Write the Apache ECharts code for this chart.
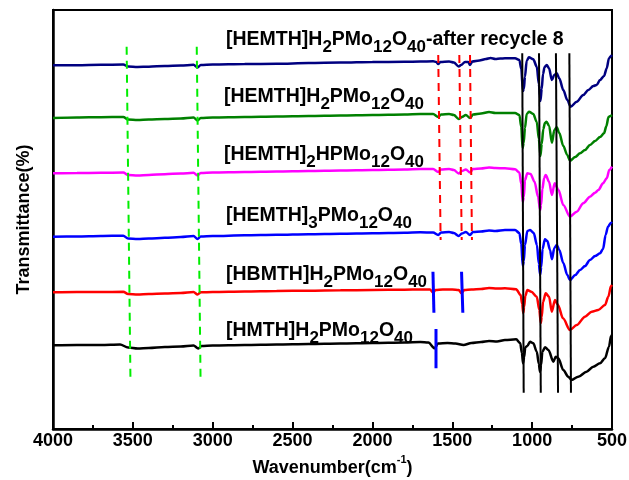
<!DOCTYPE html>
<html>
<head>
<meta charset="utf-8">
<script src="https://cdn.jsdelivr.net/npm/echarts@6/dist/echarts.min.js"></script>
<style>html,body{margin:0;padding:0;background:#fff}#c{width:629px;height:480px}</style>
</head>
<body>
<div id="c"></div>
<script>
// Wavenumber ticks
const xTicks = [4000, 3500, 3000, 2500, 2000, 1500, 1000, 500];

// Spectra: [wavenumber (cm-1), transmittance (arb. offset units)]
const afterRecycle8 = [[4000,363.7],[3850,363.8],[3700,364.2],[3560,364.5],[3530,362.5],[3470,362],[3400,362.3],[3300,363],[3200,363.5],[3120,364.2],[3095,361.5],[3075,364],[3000,364.5],[2800,365],[2600,365.2],[2400,366],[2200,366.4],[2000,367],[1800,367.2],[1700,367.5],[1620,367.7],[1600,367],[1588,365],[1575,367],[1520,367.5],[1490,366.5],[1460,362.5],[1445,364],[1420,367],[1400,367],[1389,364],[1375,367.5],[1330,368.5],[1290,370],[1260,371],[1230,370],[1200,370.5],[1170,370.7],[1107,370.7],[1080,369],[1068,360],[1058,338],[1052,340],[1045,352.3],[1034,368.3],[1020,371.7],[993,369.7],[971,362.3],[958,345],[948,328],[940,340],[932,355],[922,362],[909,364],[894,360.7],[877,349],[861,354],[846,355.7],[830,350.7],[805,339],[780,329],[759,322.3],[721,327.3],[680,334],[648,339],[617,343],[596,344],[575,349],[550,353],[533,360.7],[519,370.7],[506,373],[500,374]];
const hemthH2 = [[4000,311],[3850,311.5],[3700,311.8],[3560,312],[3530,309.5],[3470,309],[3400,309.5],[3300,310],[3200,310.5],[3120,311.5],[3095,308.5],[3075,311],[3000,311.5],[2800,312],[2600,312.5],[2400,313],[2200,313.5],[2000,314],[1800,314.5],[1700,315],[1620,315],[1588,312],[1570,314.5],[1520,315],[1490,314],[1460,310],[1440,312],[1415,314],[1389,311],[1370,314.5],[1320,315.5],[1270,317],[1230,316],[1170,316],[1107,316],[1080,314],[1068,302],[1060,281],[1053,286],[1045,301],[1034,315],[1020,317.3],[993,315],[971,307],[958,290],[948,273],[940,285],[930,300],[920,306],[910,307.3],[894,303],[876,286.3],[861,299],[846,301.7],[830,296],[805,283],[780,274],[763,268.3],[730,272],[700,275.7],[669,279],[638,284],[606,288],[575,292],[550,295.7],[535,303],[522,312],[510,313],[500,314]];
const hemth2H = [[4000,255.7],[3850,256],[3700,256.2],[3560,256.5],[3530,254],[3470,253.5],[3400,254],[3300,254.8],[3200,255.5],[3120,256.2],[3095,253.5],[3075,256],[3000,256.5],[2800,257],[2600,257.5],[2400,258],[2200,258.5],[2000,259],[1800,259.5],[1700,260],[1620,260],[1588,257],[1570,259.5],[1520,260],[1490,259],[1460,255.5],[1440,258],[1415,259.5],[1389,256.5],[1370,260],[1320,260.5],[1270,261.5],[1230,261],[1170,260.7],[1107,259.7],[1080,256.5],[1068,245],[1059,227],[1052,232],[1045,249],[1030,255.7],[1010,255],[985,247.3],[963,232.3],[950,219],[944,224],[936,240],[925,251],[915,254],[894,247.3],[876,234],[859,245.7],[835,239],[805,224],[763,212.3],[721,217.3],[680,225.7],[638,232.3],[606,236.3],[585,239],[556,245.7],[533,250.7],[517,259],[500,262.3]];
const hemth3 = [[4000,192.3],[3850,192.5],[3700,193],[3560,193.3],[3530,190.5],[3470,190],[3400,190.5],[3300,191.2],[3200,192],[3120,193],[3095,190],[3075,192.5],[3000,193],[2800,193.7],[2600,194.2],[2400,194.8],[2200,195.3],[2000,195.8],[1800,196.3],[1700,196.7],[1620,196.5],[1588,194],[1570,196.5],[1520,197],[1490,196],[1460,193],[1440,195.5],[1415,197],[1389,194],[1370,197],[1320,197.5],[1270,198.5],[1230,198],[1170,199],[1107,199],[1080,196],[1068,185],[1059,163],[1052,168],[1045,184],[1030,198],[1013,199],[990,196],[970,184],[958,165],[950,154],[943,162],[935,180],[920,189.7],[905,188],[888,179],[876,169.7],[861,181],[846,184],[830,179],[805,166],[780,154],[763,149],[730,154],[700,159],[669,163],[638,169],[606,173],[575,175.7],[556,180],[540,194],[525,202.3],[506,206.3],[500,207]];
const hbmthH2 = [[4000,136.7],[3850,137],[3700,137],[3560,137.2],[3530,135],[3470,134.5],[3400,135],[3300,135.5],[3200,136],[3120,137],[3095,134.5],[3075,136.7],[3000,137],[2800,137.5],[2600,138],[2400,138.3],[2200,138.7],[2000,139],[1800,139.3],[1700,139.5],[1640,139.5],[1620,136.3],[1605,139],[1560,139.5],[1500,139.5],[1460,139],[1442,135.7],[1425,139],[1380,139.5],[1320,140],[1270,141],[1220,140.5],[1170,140.7],[1100,139.7],[1072,134],[1062,125],[1056,116],[1050,122],[1043,133],[1030,139],[1005,137.3],[971,132.3],[955,119],[946,106],[940,112],[932,127],[915,135.7],[894,132.3],[877,117.3],[857,129],[838,124],[807,110.7],[763,99],[721,104],[669,112.3],[627,117.3],[586,119],[544,124],[523,132.3],[506,143],[500,144]];
const hmthH2 = [[4000,83.7],[3850,84],[3700,84],[3580,84.5],[3530,81.5],[3470,80.5],[3400,81],[3300,82],[3200,82.5],[3120,83.5],[3090,80.5],[3070,83],[3000,83.5],[2800,84],[2600,84.5],[2400,85],[2200,85.5],[2000,86],[1800,86.5],[1700,87],[1650,86.5],[1610,80.7],[1590,85.5],[1530,86],[1480,85.5],[1430,84],[1380,86],[1320,87],[1270,88],[1220,87.5],[1170,89],[1100,89.7],[1075,86],[1064,76],[1057,65.7],[1050,72],[1043,81.7],[1030,83],[1013,87.3],[993,85.7],[971,77.3],[958,65],[951,57.3],[944,64],[936,77.3],[919,81.7],[898,79],[867,67.3],[852,72.3],[836,70.7],[805,59],[774,52.3],[753,49],[711,52.3],[659,57.3],[617,62.3],[575,65.7],[544,70.7],[519,82.3],[506,93],[500,94]];

const seriesData = [afterRecycle8, hemthH2, hemth2H, hemth3, hbmthH2, hmthH2];
const seriesColors = ['#000080', '#008000', '#ff00ff', '#0000ff', '#ff0000', '#000000'];
const seriesNames = ['[HEMTH]H2PMo12O40-after recycle 8', '[HEMTH]H2PMo12O40', '[HEMTH]2HPMo12O40', '[HEMTH]3PMo12O40', '[HBMTH]H2PMo12O40', '[HMTH]H2PMo12O40'];
// Rich-text versions of the labels (n = normal, s = subscript)
const seriesLabels = [
  '{n|[HEMTH]H}{s|2}{n|PMo}{s|12}{n|O}{s|40}{n|-after recycle 8}',
  '{n|[HEMTH]H}{s|2}{n|PMo}{s|12}{n|O}{s|40}',
  '{n|[HEMTH]}{s|2}{n|HPMo}{s|12}{n|O}{s|40}',
  '{n|[HEMTH]}{s|3}{n|PMo}{s|12}{n|O}{s|40}',
  '{n|[HBMTH]H}{s|2}{n|PMo}{s|12}{n|O}{s|40}',
  '{n|[HMTH]H}{s|2}{n|PMo}{s|12}{n|O}{s|40}'
];

// Annotation lines: [[wTop, tTop], [wBottom, tBottom]]
const greenDashed = [[[3539, 382.3], [3515, 48]], [[3100, 382.3], [3076, 48]]];
const redDashed = [[[1588, 374], [1573, 189]], [[1456, 374], [1441, 189]], [[1389, 374], [1377, 189]]];
const blueMarks = [[[1621, 157.3], [1615, 116.3]], [[1442, 157.3], [1434, 116.3]], [[1602, 100], [1602, 60.7]]];
const blackBands = [[[1062, 375.7], [1053, 36.3]], [[957, 375.7], [946, 36.3]], [[851, 375.7], [838, 36.3]], [[767, 375.7], [757, 36.3]]];

const FONT = '"Liberation Sans", Arial, sans-serif';
const series = [];
seriesData.forEach((d, i) => {
  series.push({
    type: 'line', name: seriesNames[i], data: d, showSymbol: false, symbol: 'none',
    smooth: 0.3, smoothMonotone: 'x',
    lineStyle: { color: seriesColors[i], width: 2.5 }, silent: true, animation: false, z: 2
  });
});
function addLines(groups, color, type, width) {
  groups.forEach(g => series.push({
    type: 'line', data: g, symbol: 'none', silent: true, animation: false, z: 3,
    lineStyle: { color: color, width: width, type: type }
  }));
}
addLines(greenDashed, '#00ee00', [8, 6], 2);
addLines(redDashed, '#ff0000', [8, 6], 2);
addLines(blueMarks, '#0000ff', 'solid', 3);
addLines(blackBands, '#000000', 'solid', 2);

const labelTops = [30, 87, 145, 206, 265, 321];
const labelLefts = [226, 224, 224, 226, 226, 226];
const richStyle = {
  n: { fontFamily: FONT, fontWeight: 'bold', fontSize: 19.5, color: '#000', verticalAlign: 'top' },
  s: { fontFamily: FONT, fontWeight: 'bold', fontSize: 17, color: '#000', verticalAlign: 'top', padding: [9, 0, 0, 0] }
};
const graphics = seriesLabels.map((t, i) => ({
  type: 'text', left: labelLefts[i], top: labelTops[i], z: 10,
  style: { text: t, rich: richStyle, fill: '#000' }
}));

const chart = echarts.init(document.getElementById('c'), null, { renderer: 'canvas' });
chart.setOption({
  animation: false,
  backgroundColor: '#fff',
  grid: { left: 53, right: 17, top: 10, bottom: 51, show: true, borderColor: '#000', borderWidth: 2,
    containLabel: false, outerBoundsMode: 'none' },
  xAxis: {
    type: 'value', inverse: true, min: 500, max: 4000, interval: 500,
    name: '{n|Wavenumber(cm}{s|-1}{n|)}', nameLocation: 'middle', nameGap: 23,
    nameTextStyle: {
      rich: {
        n: { fontFamily: FONT, fontWeight: 'bold', fontSize: 18, color: '#000', verticalAlign: 'top', padding: [4, 0, 0, 0] },
        s: { fontFamily: FONT, fontWeight: 'bold', fontSize: 11, color: '#000', verticalAlign: 'top' }
      }
    },
    axisLine: { show: true, onZero: false, lineStyle: { color: '#000', width: 2.5 } },
    axisTick: { show: true, inside: true, length: 7, lineStyle: { color: '#000', width: 2 } },
    minorTick: { show: true, splitNumber: 2, length: 4, lineStyle: { color: '#000', width: 2 } },
    splitLine: { show: false },
    axisLabel: { fontFamily: FONT, fontWeight: 'bold', fontSize: 18, color: '#000', margin: 3,
      formatter: v => (xTicks.indexOf(v) >= 0 ? String(v) : '') }
  },
  yAxis: {
    type: 'value', min: 0, max: 419,
    name: 'Transmittance(%)', nameLocation: 'middle', nameGap: 20,
    nameTextStyle: { fontFamily: FONT, fontWeight: 'bold', fontSize: 18, color: '#000' },
    axisLine: { show: true, lineStyle: { color: '#000', width: 2.5 } },
    axisTick: { show: false }, axisLabel: { show: false }, splitLine: { show: false }
  },
  series: series,
  graphic: graphics
});
</script>
</body>
</html>
